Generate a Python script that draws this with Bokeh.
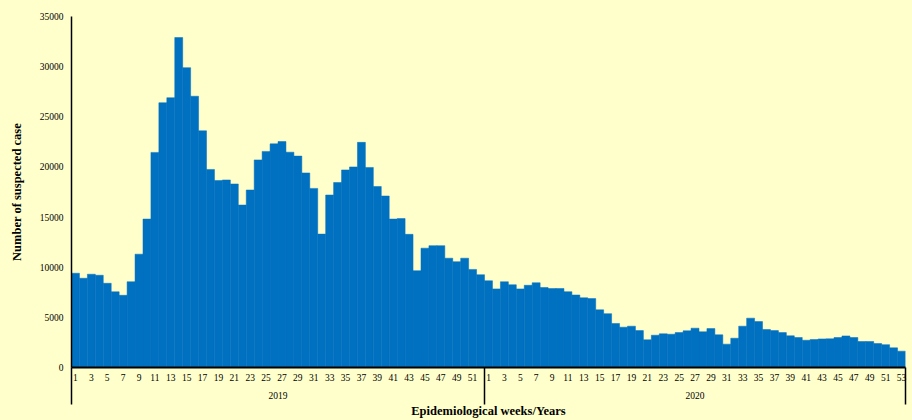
from bokeh.plotting import figure
from bokeh.models import Range1d, FixedTicker, LinearAxis
from bokeh.embed import file_html
from bokeh.resources import INLINE

years = ["2019", "2020"]
cases_2019 = [9400, 8900, 9300, 9200, 8400, 7550, 7200, 8550, 11300, 14800,
              21450, 26400, 26900, 32900, 29900, 27050, 23600, 19750, 18650, 18700,
              18300, 16200, 17700, 20700, 21550, 22300, 22530, 21470, 21080, 19400,
              17860, 13300, 17200, 18450, 19700, 20000, 22450, 19950, 18050, 17100,
              14800, 14850, 13280, 9650, 11900, 12150, 12150, 10900, 10550, 10900,
              9780, 9250]
cases_2020 = [8650, 7840, 8550, 8250, 7840, 8200, 8450, 7980, 7880, 7880,
              7560, 7230, 6950, 6870, 5750, 5370, 4390, 4020, 4120, 3680,
              2760, 3220, 3360, 3320, 3480, 3660, 3920, 3560, 3880, 3260,
              2330, 2920, 4120, 4920, 4580, 3790, 3680, 3480, 3160, 2990,
              2720, 2790, 2850, 2860, 2990, 3150, 2990, 2590, 2590, 2390,
              2280, 1960, 1630]
y_ticks = [0, 5000, 10000, 15000, 20000, 25000, 30000, 35000]

BG = "#FFFFCC"
BAR = "#0070C0"
FONT = "Liberation Serif"

values = cases_2019 + cases_2020
weeks = list(range(1, len(cases_2019) + 1)) + list(range(1, len(cases_2020) + 1))
pos = list(range(1, len(values) + 1))
n19 = len(cases_2019)

p = figure(width=912, height=420,
           x_range=Range1d(0.5, len(values) + 0.5),
           y_range=Range1d(y_ticks[0], y_ticks[-1]),
           output_backend="svg", toolbar_location=None,
           background_fill_color=BG, border_fill_color=BG,
           min_border_left=71, min_border_right=7, min_border_top=16,
           min_border_bottom=53, outline_line_color=None)
p.grid.visible = False

p.vbar(x=pos, top=values, bottom=0, width=1.0,
       fill_color=BAR, line_color=BAR, line_width=0.5)

# week axis
week_ticks = [x for x, w in zip(pos, weeks) if w % 2 == 1]
xa = p.xaxis[0]
xa.ticker = FixedTicker(ticks=week_ticks,
                        minor_ticks=[0.5, n19 + 0.5, len(values) + 0.5])
xa.major_label_overrides = {x: str(w) for x, w in zip(pos, weeks) if w % 2 == 1}
xa.major_tick_out = 0
xa.major_tick_in = 0
xa.minor_tick_in = 0
xa.minor_tick_out = 37
xa.minor_tick_line_color = "black"
xa.minor_tick_line_width = 1.5
xa.axis_line_color = "black"
xa.axis_line_width = 2
xa.major_label_standoff = -31
xa.major_label_text_font = FONT
xa.major_label_text_font_size = "9.5px"
xa.major_label_text_color = "black"

# year axis
ya2 = LinearAxis(ticker=FixedTicker(ticks=[n19 / 2 + 0.5, n19 + len(cases_2020) / 2 + 0.5]),
                 major_label_overrides={n19 / 2 + 0.5: years[0],
                                        n19 + len(cases_2020) / 2 + 0.5: years[1]},
                 axis_line_color=None, major_tick_line_color=None,
                 minor_tick_line_color=None,
                 major_tick_out=0, major_tick_in=0,
                 major_label_standoff=8,
                 major_label_text_font=FONT, major_label_text_font_size="9.5px",
                 major_label_text_color="black",
                 axis_label="Epidemiological weeks/Years",
                 axis_label_standoff=2,
                 axis_label_text_font=FONT, axis_label_text_font_size="12.5px",
                 axis_label_text_font_style="bold", axis_label_text_color="black")
p.add_layout(ya2, "below")

# y axis
yax = p.yaxis[0]
yax.ticker = FixedTicker(ticks=y_ticks)
yax.major_tick_out = 0
yax.major_tick_in = 0
yax.minor_tick_line_color = None
yax.axis_line_color = "black"
yax.axis_line_width = 1.5
yax.major_label_standoff = 8
yax.major_label_text_font = FONT
yax.major_label_text_font_size = "9.5px"
yax.major_label_text_color = "black"
yax.axis_label = "Number of suspected case"
yax.axis_label_standoff = 13
yax.axis_label_text_font = FONT
yax.axis_label_text_font_size = "12.5px"
yax.axis_label_text_font_style = "bold"
yax.axis_label_text_color = "black"

html = file_html(p, INLINE)
html = html.replace("</head>", "<style>body{background:%s;}</style></head>" % BG, 1)
open("out.html", "w").write(html)
